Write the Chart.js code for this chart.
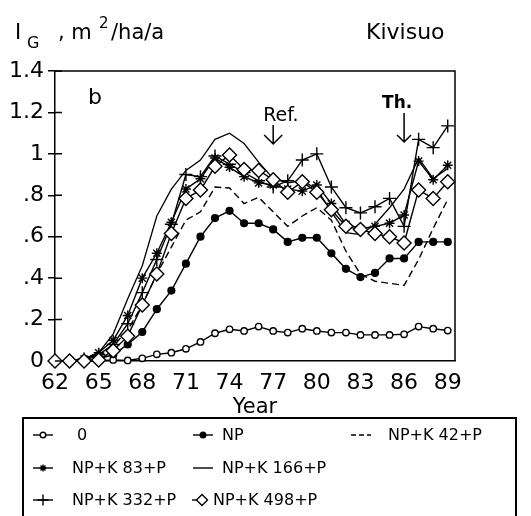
<!DOCTYPE html>
<html>
<head>
<meta charset="utf-8">
<script src="https://cdn.jsdelivr.net/npm/chart.js@4/dist/chart.umd.min.js"></script>
<style>
  html, body { margin: 0; padding: 0; background: #fff; }
  canvas { display: block; }
</style>
</head>
<body>
<canvas id="growth" width="531" height="516"></canvas>
<script>
// Basal area increment I_G (m2/ha/a), Kivisuo, by fertilization treatment
const years = [62, 63, 64, 65, 66, 67, 68, 69, 70, 71, 72, 73, 74, 75, 76, 77, 78, 79, 80, 81, 82, 83, 84, 85, 86, 87, 88, 89];

const control = [0, 0, 0, 0, 0.005, 0.003, 0.013, 0.032, 0.04, 0.059, 0.092, 0.134, 0.153, 0.145, 0.166, 0.145, 0.137, 0.156, 0.145, 0.137, 0.137, 0.126, 0.126, 0.126, 0.129, 0.166, 0.156, 0.147];
const np = [0, 0, 0, 0.01, 0.03, 0.08, 0.14, 0.25, 0.34, 0.47, 0.6, 0.69, 0.725, 0.665, 0.665, 0.635, 0.575, 0.595, 0.595, 0.52, 0.445, 0.405, 0.425, 0.495, 0.495, 0.575, 0.575, 0.575];
const npk42 = [0, 0, 0.01, 0.02, 0.07, 0.15, 0.27, 0.42, 0.55, 0.68, 0.72, 0.84, 0.835, 0.76, 0.79, 0.72, 0.65, 0.7, 0.74, 0.68, 0.53, 0.42, 0.385, 0.375, 0.365, 0.49, 0.64, 0.78];
const npk83 = [0, 0, 0.01, 0.04, 0.1, 0.22, 0.4, 0.52, 0.67, 0.83, 0.88, 0.98, 0.935, 0.89, 0.86, 0.85, 0.83, 0.82, 0.85, 0.76, 0.66, 0.64, 0.65, 0.665, 0.705, 0.965, 0.875, 0.945];
const npk166 = [0, 0, 0.01, 0.04, 0.13, 0.3, 0.46, 0.7, 0.83, 0.92, 0.97, 1.07, 1.1, 1.05, 0.96, 0.88, 0.86, 0.87, 0.83, 0.72, 0.62, 0.61, 0.66, 0.74, 0.83, 0.98, 0.88, 0.93];
const npk332 = [0, 0, 0.01, 0.03, 0.08, 0.18, 0.33, 0.49, 0.66, 0.9, 0.89, 0.99, 0.95, 0.91, 0.87, 0.84, 0.87, 0.97, 1.0, 0.84, 0.74, 0.715, 0.745, 0.785, 0.65, 1.07, 1.03, 1.135];
const npk498 = [0, 0, 0, 0.005, 0.05, 0.12, 0.27, 0.42, 0.615, 0.785, 0.825, 0.94, 0.995, 0.925, 0.92, 0.875, 0.815, 0.865, 0.815, 0.73, 0.65, 0.635, 0.615, 0.6, 0.57, 0.825, 0.785, 0.865];

const xTicks = [62, 65, 68, 71, 74, 77, 80, 83, 86, 89];
const yTicks = [0, 0.2, 0.4, 0.6, 0.8, 1, 1.2, 1.4];
const yTickLabels = ['0', '.2', '.4', '.6', '.8', '1', '1.2', '1.4'];

const FONT = 'DejaVu Sans';
Chart.defaults.font.family = FONT;
Chart.defaults.color = '#000';

function points(values) {
  return years.map((yr, i) => ({ x: yr, y: values[i] }));
}

function line(label, values, extra) {
  return Object.assign({
    label: label,
    data: points(values),
    borderColor: '#000',
    borderWidth: 1.4,
    pointBorderColor: '#000',
    pointBorderWidth: 1.4,
    pointBackgroundColor: '#000',
    pointRadius: 0,
    pointHoverRadius: 0,
    tension: 0,
    clip: false
  }, extra);
}

const datasets = [
  line('0', control, { pointStyle: 'circle', pointRadius: 3.2, pointBackgroundColor: '#fff', order: 1 }),
  line('NP', np, { pointStyle: 'circle', pointRadius: 3.4, order: 2 }),
  line('NP+K 42+P', npk42, { borderDash: [7, 4], order: 6 }),
  line('NP+K 83+P', npk83, { pointStyle: 'star', pointRadius: 5, order: 3 }),
  line('NP+K 166+P', npk166, { borderWidth: 1.3, order: 5 }),
  line('NP+K 332+P', npk332, { pointStyle: 'cross', pointRadius: 6.5, order: 4 }),
  line('NP+K 498+P', npk498, { pointStyle: 'rectRot', pointRadius: 7, pointBackgroundColor: '#fff', order: 0 })
];

// legend slots: symbol centre, text start, row
const legendSlots = [
  { sx: 43, tx: 77, y: 435 },
  { sx: 203, tx: 222, y: 435 },
  { sx: 361, tx: 388, y: 435 },
  { sx: 43, tx: 72, y: 468 },
  { sx: 203, tx: 222, y: 468 },
  { sx: 43, tx: 72, y: 500 },
  { sx: 202, tx: 213, y: 500 }
];

function drawMarker(ctx, style, x, y, r, fill) {
  const d = r * Math.SQRT1_2;
  ctx.beginPath();
  if (style === 'circle') {
    ctx.arc(x, y, r, 0, Math.PI * 2);
  } else if (style === 'rectRot') {
    ctx.moveTo(x, y - r); ctx.lineTo(x + r, y); ctx.lineTo(x, y + r); ctx.lineTo(x - r, y); ctx.closePath();
  } else if (style === 'cross') {
    ctx.moveTo(x - r, y); ctx.lineTo(x + r, y); ctx.moveTo(x, y - r); ctx.lineTo(x, y + r);
  } else if (style === 'star') {
    ctx.moveTo(x - r, y); ctx.lineTo(x + r, y); ctx.moveTo(x, y - r); ctx.lineTo(x, y + r);
    ctx.moveTo(x - d, y - d); ctx.lineTo(x + d, y + d); ctx.moveTo(x - d, y + d); ctx.lineTo(x + d, y - d);
  }
  if (style === 'circle' || style === 'rectRot') {
    ctx.fillStyle = fill;
    ctx.fill();
  }
  ctx.stroke();
}

function arrow(ctx, x, top, bottom, arm) {
  ctx.beginPath();
  ctx.moveTo(x, top); ctx.lineTo(x, bottom);
  ctx.moveTo(x - arm, bottom - arm); ctx.lineTo(x, bottom); ctx.lineTo(x + arm, bottom - arm);
  ctx.stroke();
}

const decorations = {
  id: 'decorations',
  afterDraw(chart) {
    const { ctx, chartArea: a, scales } = chart;
    ctx.save();
    ctx.strokeStyle = '#000';
    ctx.fillStyle = '#000';
    ctx.lineWidth = 1.5;

    // frame top and right
    ctx.beginPath();
    ctx.moveTo(a.left, a.top); ctx.lineTo(a.right, a.top); ctx.lineTo(a.right, a.bottom);
    ctx.stroke();

    // inner half of the y ticks
    ctx.beginPath();
    yTicks.forEach(v => {
      const py = scales.y.getPixelForValue(v);
      ctx.moveTo(a.left, py); ctx.lineTo(a.left + 7, py);
    });
    ctx.stroke();

    // axis heading
    ctx.textBaseline = 'alphabetic';
    ctx.textAlign = 'left';
    ctx.font = '21px ' + FONT;
    ctx.fillText('I', 15, 39);
    ctx.font = '16px ' + FONT;
    ctx.fillText('G', 27, 48);
    ctx.font = '21px ' + FONT;
    ctx.fillText(', m', 58, 39);
    ctx.font = '15px ' + FONT;
    ctx.fillText('2', 99, 28);
    ctx.font = '21px ' + FONT;
    ctx.fillText('/ha/a', 111, 39);
    ctx.font = '22px ' + FONT;
    ctx.fillText('Kivisuo', 366, 39);
    ctx.fillText('b', 88, 104);

    // markers for the reference and thinning years
    const refX = scales.x.getPixelForValue(77);
    const thX = scales.x.getPixelForValue(86);
    ctx.font = '19px ' + FONT;
    ctx.fillText('Ref.', refX - 10, 121);
    arrow(ctx, refX, 125, 144, 9);
    ctx.font = 'bold 17px ' + FONT;
    ctx.fillText('Th.', thX - 22, 108);
    arrow(ctx, thX, 113, 142, 7);

    // legend box
    ctx.lineWidth = 2;
    ctx.strokeRect(23, 418, 493, 130);
    ctx.font = '16px ' + FONT;
    ctx.textBaseline = 'middle';
    chart.data.datasets.forEach((ds, i) => {
      const s = legendSlots[i];
      ctx.lineWidth = 1.4;
      ctx.setLineDash(ds.borderDash ? [5, 3] : []);
      ctx.beginPath();
      if (ds.pointStyle === 'rectRot') {
        ctx.moveTo(s.sx - 10, s.y); ctx.lineTo(s.sx - 5, s.y);
      } else {
        ctx.moveTo(s.sx - 10, s.y); ctx.lineTo(s.sx + 10, s.y);
      }
      ctx.stroke();
      ctx.setLineDash([]);
      if (ds.pointRadius > 0) {
        const r = ds.pointStyle === 'circle' ? 2.8 : (ds.pointStyle === 'star' ? 3.5 : 5.5);
        drawMarker(ctx, ds.pointStyle, s.sx, s.y, r, ds.pointBackgroundColor);
      }
      ctx.fillStyle = '#000';
      ctx.fillText(ds.label, s.tx, s.y + 1);
    });
    ctx.restore();
  }
};

new Chart(document.getElementById('growth'), {
  type: 'line',
  data: { datasets: datasets },
  options: {
    responsive: false,
    animation: false,
    devicePixelRatio: 1,
    layout: { padding: { top: 71, right: 76, left: 0, bottom: 0 } },
    plugins: { legend: { display: false }, tooltip: { enabled: false } },
    events: [],
    scales: {
      x: {
        type: 'linear',
        min: 62,
        max: 89.5,
        afterBuildTicks: s => { s.ticks = xTicks.map(v => ({ value: v })); },
        afterFit: s => { s.height = 155; },
        grid: { display: false, drawTicks: false },
        border: { display: true, color: '#000', width: 1.5 },
        ticks: { font: { size: 22 }, padding: 9, maxRotation: 0, autoSkip: false, callback: v => String(v) },
        title: { display: true, text: 'Year', font: { size: 21 }, padding: { top: 0, bottom: 96 } }
      },
      y: {
        min: 0,
        max: 1.4,
        afterBuildTicks: s => { s.ticks = yTicks.map(v => ({ value: v })); },
        afterFit: s => { s.width = 55; },
        grid: { drawOnChartArea: false, tickLength: 7, color: '#000', lineWidth: 1.5 },
        border: { color: '#000', width: 1.5 },
        ticks: { font: { size: 22 }, padding: 4, callback: (v, i) => yTickLabels[i] }
      }
    }
  },
  plugins: [decorations]
});
</script>
</body>
</html>
